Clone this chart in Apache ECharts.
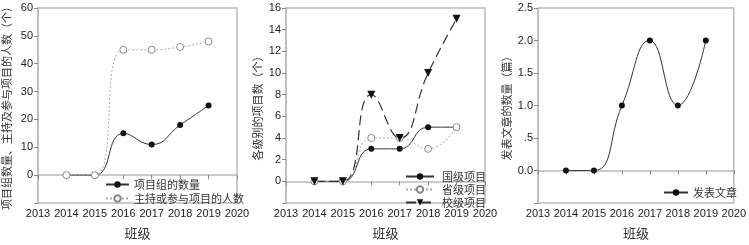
<!DOCTYPE html>
<html>
<head>
<meta charset="utf-8">
<script src="https://cdn.jsdelivr.net/npm/echarts@6/dist/echarts.min.js"></script>
<style>
  html, body { margin: 0; padding: 0; background: #fff; }
  #main { width: 749px; height: 245px; }
</style>
</head>
<body>
<div id="main"></div>
<script>
// 班级（横轴）
const years = [2014, 2015, 2016, 2017, 2018, 2019];

// 图1：项目组数量、人数
const groupCount = [0, 0, 15, 11, 18, 25];
const peopleCount = [0, 0, 45, 45, 46, 48];

// 图2：各级别项目数
const nationalProj = [0, 0, 3, 3, 5, 5];
const provincialProj = [0, 0, 4, 4, 3, 5];
const schoolProj = [0, 0, 8, 4, 10, 15];

// 图3：发表文章
const papers = [0, 0, 1, 2, 1, 2];

const FONT = 'Liberation Sans, Arial, "Noto Sans CJK SC", sans-serif';
const CJK = '"Noto Sans CJK SC", sans-serif';
const ink = '#222';
const frame = '#bbb';

const pairs = (vals) => years.map((y, i) => [y, vals[i]]);

function xAxisFor(idx) {
  return {
    type: 'value', gridIndex: idx, min: 2013, max: 2020, interval: 1,
    name: '班级', nameLocation: 'middle', nameGap: 24,
    nameTextStyle: { fontFamily: CJK, fontSize: 13, color: '#333' },
    axisLine: { lineStyle: { color: frame, width: 1.5 } },
    axisTick: { inside: false, length: 4, lineStyle: { color: '#888' } },
    axisLabel: { color: ink, fontSize: 11, fontFamily: FONT, margin: 5, formatter: v => String(v) },
    splitLine: { show: false }
  };
}

function yAxisFor(idx, min, max, step, name, gap, fmt) {
  return {
    type: 'value', gridIndex: idx, min: min, max: max, interval: step,
    name: name, nameLocation: 'middle', nameGap: gap,
    nameTextStyle: { fontFamily: CJK, fontSize: 11, color: '#333' },
    axisLine: { show: true, lineStyle: { color: frame, width: 1.5 } },
    axisTick: { inside: false, length: 4, lineStyle: { color: '#888' } },
    axisLabel: { color: ink, fontSize: 11, fontFamily: FONT, margin: 5, formatter: fmt },
    splitLine: { show: false }
  };
}

const gridBase = { top: 8, height: 201, width: 199, show: true, borderColor: frame, borderWidth: 1.5 };
const legendText = { fontFamily: CJK, fontSize: 11, color: '#333', lineHeight: 11 };

const chart = echarts.init(document.getElementById('main'));
chart.setOption({
  animation: false,
  textStyle: { fontFamily: FONT },
  grid: [
    Object.assign({ left: 38 }, gridBase),
    Object.assign({ left: 286 }, gridBase),
    Object.assign({ left: 538 }, gridBase)
  ],
  xAxis: [xAxisFor(0), xAxisFor(1), xAxisFor(2)],
  yAxis: [
    yAxisFor(0, -10, 60, 10, '项目组数量、主持及参与项目的人数（个）', 26,
      v => v < 0 ? '' : String(v)),
    yAxisFor(1, -2, 16, 2, '各级别的项目数（个）', 23,
      v => v < 0 ? '' : String(v)),
    yAxisFor(2, -0.5, 2.5, 0.5, '发表文章的数量（篇）', 26,
      v => v < 0 ? '' : (v === 0.5 ? '.5' : v.toFixed(1)))
  ],
  legend: [
    {
      data: ['项目组的数量', '主持或参与项目的人数'], orient: 'vertical',
      left: 100, top: 174, itemWidth: 23, itemHeight: 8, itemGap: 3,
      textStyle: legendText
    },
    {
      data: ['国级项目', '省级项目', '校级项目'], orient: 'vertical',
      left: 400, top: 166, itemWidth: 28, itemHeight: 8, itemGap: 2,
      textStyle: Object.assign({ padding: [0, 0, 0, 3] }, legendText)
    },
    {
      data: ['发表文章'], orient: 'vertical',
      left: 658, top: 182, itemWidth: 24, itemHeight: 8,
      textStyle: legendText
    }
  ],
  series: [
    {
      name: '项目组的数量', type: 'line', xAxisIndex: 0, yAxisIndex: 0,
      data: pairs(groupCount), smooth: 0.5,
      symbol: 'circle', symbolSize: 6,
      itemStyle: { color: '#111' }, lineStyle: { color: '#333', width: 1 }
    },
    {
      name: '主持或参与项目的人数', type: 'line', xAxisIndex: 0, yAxisIndex: 0,
      data: pairs(peopleCount), smooth: 0.5,
      symbol: 'circle', symbolSize: 7,
      itemStyle: { color: '#fff', borderColor: '#888', borderWidth: 1 },
      lineStyle: { color: '#aaa', width: 1, type: [2, 2] }
    },
    {
      name: '国级项目', type: 'line', xAxisIndex: 1, yAxisIndex: 1,
      data: pairs(nationalProj), smooth: 0.5,
      symbol: 'circle', symbolSize: 6,
      itemStyle: { color: '#111' }, lineStyle: { color: '#333', width: 1 }
    },
    {
      name: '省级项目', type: 'line', xAxisIndex: 1, yAxisIndex: 1,
      data: pairs(provincialProj), smooth: 0.5,
      symbol: 'circle', symbolSize: 7,
      itemStyle: { color: '#fff', borderColor: '#888', borderWidth: 1 },
      lineStyle: { color: '#aaa', width: 1, type: [2, 2] }
    },
    {
      name: '校级项目', type: 'line', xAxisIndex: 1, yAxisIndex: 1,
      data: pairs(schoolProj), smooth: 0.5,
      symbol: 'triangle', symbolRotate: 180, symbolSize: 8,
      itemStyle: { color: '#111' }, lineStyle: { color: '#333', width: 1.2, type: [10, 5] }
    },
    {
      name: '发表文章', type: 'line', xAxisIndex: 2, yAxisIndex: 2,
      data: pairs(papers), smooth: 0.5,
      symbol: 'circle', symbolSize: 6,
      itemStyle: { color: '#111' }, lineStyle: { color: '#333', width: 1 }
    }
  ]
});
</script>
</body>
</html>
